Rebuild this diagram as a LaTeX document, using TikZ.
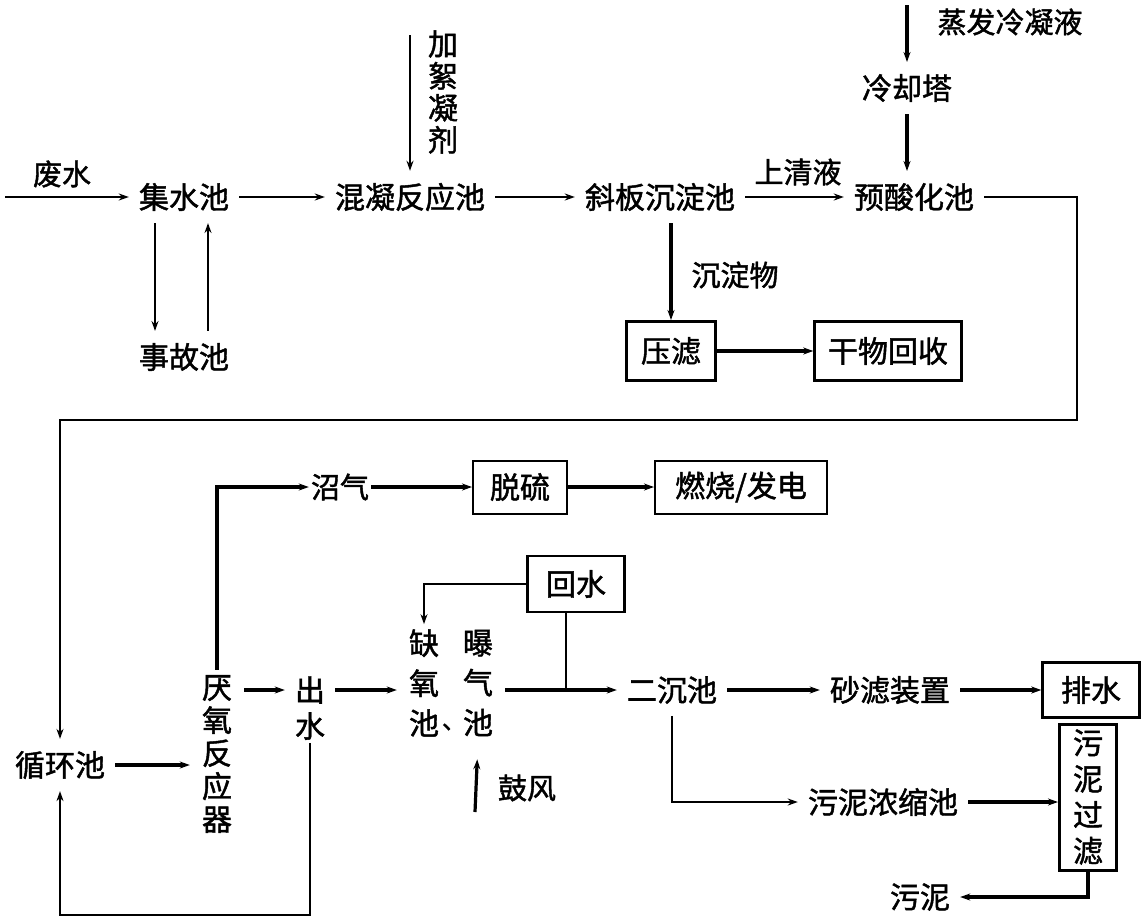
\documentclass[tikz,border=0pt]{standalone}
\usepackage{fontspec}
\setmainfont{Noto Sans CJK SC}[AutoFakeBold=1.5]
\usetikzlibrary{arrows.meta}
\begin{document}
\bfseries
\begin{tikzpicture}[x=1pt,y=-1pt,
  tx/.style={font=\fontsize{30}{36}\selectfont, inner xsep=10pt, inner ysep=12pt},
  lb/.style={font=\fontsize{29}{34}\selectfont, inner sep=2pt},
  vt/.style={font=\fontsize{30}{#1}\selectfont, align=center, inner xsep=12pt, inner ysep=5pt},
  bx/.style={draw, line width=2.4pt, font=\fontsize{30}{36}\selectfont, inner sep=0pt},
  ln/.style={line width=1.6pt},
  tk/.style={line width=3.2pt},
  arr/.style={-{Stealth[length=10pt,width=7pt]}},
]
\useasboundingbox (0,0) rectangle (1144,922);

% ---------- top part ----------
\node[lb] (fs) at (62,174) {废水};
\coordinate (in) at (5,197);
\node[tx] (jsc) at (184,197) {集水池};
\node[tx] (sgc) at (184,357) {事故池};
\node[tx] (hn) at (410,197) {混凝反应池};
\node[vt=32] (jx) at (443,92) {加\\絮\\凝\\剂};
\coordinate (jxt) at (410,35);
\node[tx] (xb) at (660,197) {斜板沉淀池};
\node[lb] (sqy) at (798,172) {上清液};
\node[tx] (ysh) at (914,197) {预酸化池};
\node[lb] (zf) at (1010,22) {蒸发冷凝液};
\coordinate (zft) at (907,5);
\node[tx] (lqt) at (907,88) {冷却塔};
\node[lb] (cdw) at (735,275) {沉淀物};
\node[bx, line width=3pt, minimum width=89pt, minimum height=59pt] (yl) at (671,351) {压滤};
\node[bx, minimum width=147pt, minimum height=59pt] (gw) at (888,351) {干物回收};

\draw[ln,arr] (in) -- (jsc.west);
\draw[ln,arr] ([xshift=-29pt]jsc.south) -- ([xshift=-29pt]sgc.north);
\draw[ln,arr] ([xshift=24pt]sgc.north) -- ([xshift=24pt]jsc.south);
\draw[ln,arr] (jsc.east) -- (hn.west);
\draw[ln,arr] (jxt) -- (jxt |- hn.north);
\draw[ln,arr] (hn.east) -- (xb.west);
\draw[ln,arr] (xb.east) -- (ysh.west);
\draw[tk,arr] (zft) -- (lqt.north);
\draw[tk,arr] (lqt.south) -- (lqt.south |- ysh.north);
\draw[tk,arr] (yl.north |- xb.south) -- (yl.north);
\draw[tk,arr] (yl.east) -- (gw.west);

% ---------- bottom part ----------
\node[tx] (xhc) at (60,765) {循环池};
\node[vt=33] (yy) at (217,754) {厌\\氧\\反\\应\\器};
\node[tx, inner ysep=3pt] (cs) at (310,690) {出};
\node[tx, inner ysep=3pt] (cs2) at (310,726) {水};
\node[lb] (zq) at (340,487) {沼气};
\node[bx, line width=2pt, minimum width=94pt, minimum height=53pt] (ts) at (520,487) {脱硫};
\node[bx, line width=2pt, minimum width=172pt, minimum height=53pt] (rs) at (741,487) {燃烧/发电};
\node[vt=40] (qy) at (424,683) {缺\\氧\\池};
\node[font=\fontsize{24}{28}\selectfont, inner sep=0pt] (dun) at (454,727) {、};
\node[vt=40] (bq) at (478,683) {曝\\气\\池};
\node[bx, minimum width=97pt, minimum height=56pt] (hs) at (576,584) {回水};
\coordinate (gft) at (475,812);
\node[lb] (gf) at (527,788) {鼓风};
\node[tx] (ec) at (672,690) {二沉池};
\node[tx] (sl) at (890,690) {砂滤装置};
\node[bx, minimum width=97pt, minimum height=55pt] (ps) at (1091,690) {排水};
\node[tx] (wn) at (883,802) {污泥浓缩池};
\node[bx, line width=3pt, minimum width=57pt, minimum height=146pt, align=center, font=\fontsize{30}{36}\selectfont] (wg) at (1088,797) {污\\泥\\过\\滤};
\node[tx] (wnn) at (920,897) {污泥};

\draw[ln,arr] (ysh.east) -- (1077,197) |- (60,420) -- (xhc.north);
\draw[tk,arr] (xhc.east) -- (xhc.east -| yy.west);
\draw[tk,arr] (yy.north) |- (zq.west);
\draw[tk,arr] (zq.east) -- (ts.west);
\draw[tk,arr] (ts.east) -- (rs.west);
\draw[tk,arr] (yy.east |- cs.west) -- (cs.west);
\draw[tk,arr] (cs.east) -- (cs.east -| qy.west);
\draw[ln,arr] (cs2.south) -- (310,915) -| (xhc.south);
\draw[ln,arr] (hs.west) -| (qy.north);
\draw[ln] ([xshift=-10pt]hs.south) -- ([xshift=-10pt]hs.south |- ec.west);
\draw[tk,arr] (bq.east |- ec.west) -- (ec.west);
\draw[tk,arr,shorten >=18pt] (gft) -- (bq.south);
\draw[tk,arr] (ec.east) -- (sl.west);
\draw[tk,arr] (sl.east) -- (ps.west);
\draw[ln,arr] (ec.south) |- (wn.west);
\draw[tk,arr] (wn.east) -- (wn.east -| wg.west);
\draw[tk,arr] (wg.south) |- (wnn.east);
\end{tikzpicture}
\end{document}
